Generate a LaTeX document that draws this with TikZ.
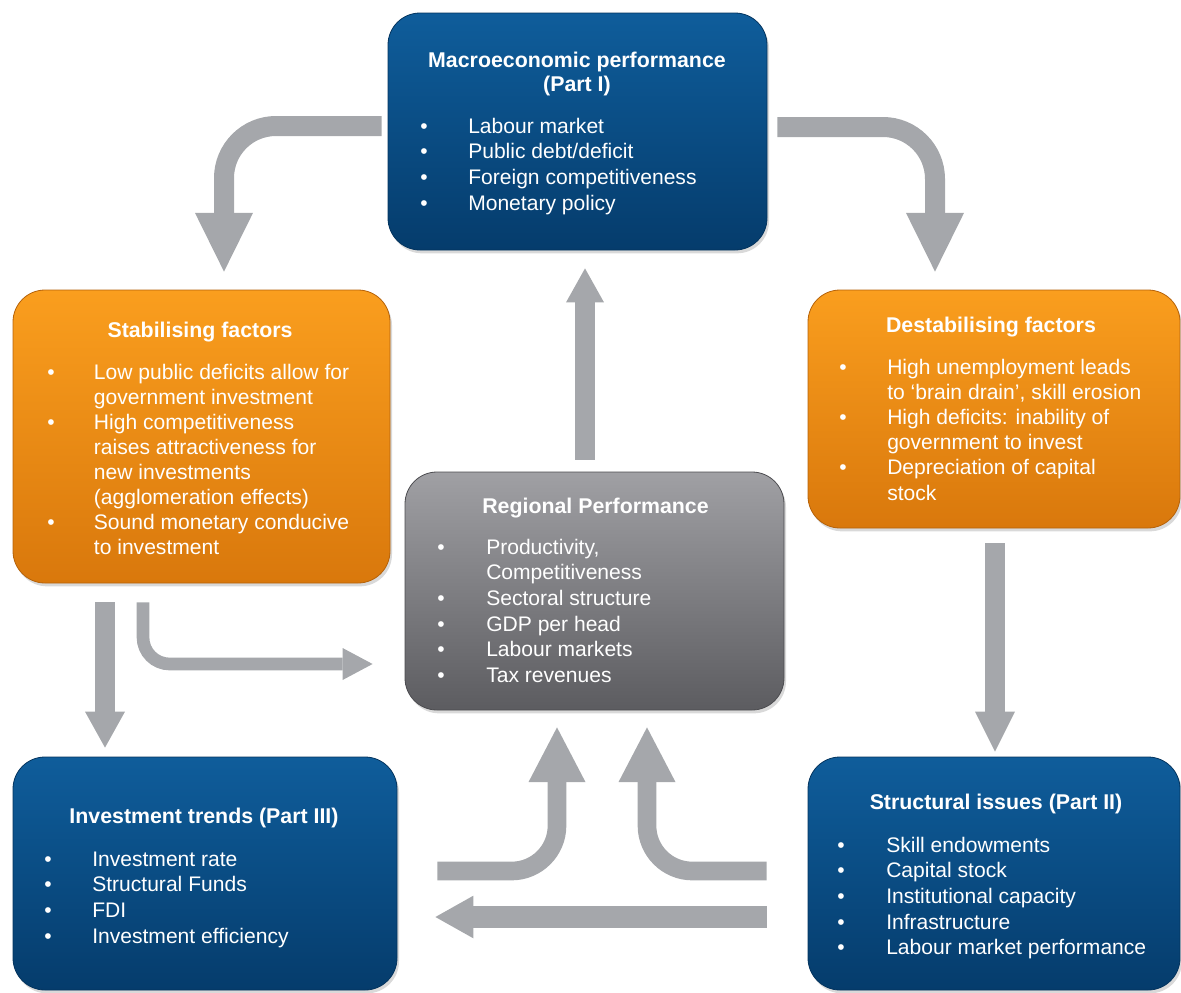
\documentclass[tikz,border=0pt]{standalone}
\usepackage{fontspec}
\setmainfont{Liberation Sans}
\usetikzlibrary{arrows.meta}
\usetikzlibrary{calc}
\usetikzlibrary{shadows}

\definecolor{bluetop}{HTML}{0F5D9B}
\definecolor{bluebottom}{HTML}{053C6C}
\definecolor{blueborder}{HTML}{04345E}
\definecolor{orangetop}{HTML}{FA9E1E}
\definecolor{orangebottom}{HTML}{D9780C}
\definecolor{orangeborder}{HTML}{B5620A}
\definecolor{graytop}{HTML}{A0A0A4}
\definecolor{graybottom}{HTML}{5C5C60}
\definecolor{grayborder}{HTML}{4C4C50}
\definecolor{arrowgray}{HTML}{A5A7AB}

\tikzset{
  box/.style={rounded corners=24pt, draw=#1border, line width=0.6pt,
    top color=#1top, bottom color=#1bottom,
    drop shadow={shadow xshift=1.5pt, shadow yshift=-2.5pt, opacity=0.3}},
  boxtitle/.style={font=\fontsize{16}{18}\selectfont\bfseries, text=white, inner sep=0pt, anchor=base},
  itemlist/.style={font=\fontsize{15.8}{19.3}\selectfont, text=white, inner sep=0pt, anchor=base west},
  flow/.style={draw=arrowgray, line width=#1},
  head/.style 2 args={-{Triangle[width=#1,length=#2,line width=0pt]}}
}

\begin{document}
\begin{tikzpicture}[x=0.75pt,y=-0.75pt]
\useasboundingbox (0,0) rectangle (1181,992);

% boxes
\node[box=blue, minimum width=284.25pt, minimum height=177.75pt] (macro) at (577.5,131.5) {};
\node[box=orange, minimum width=282.75pt, minimum height=219.75pt] (stab) at (201.5,436.5) {};
\node[box=orange, minimum width=279pt, minimum height=178.5pt] (destab) at (994,409) {};
\node[box=gray, minimum width=284.25pt, minimum height=178.5pt] (region) at (594.5,591) {};
\node[box=blue, minimum width=288pt, minimum height=174.75pt] (invest) at (205,873.5) {};
\node[box=blue, minimum width=279pt, minimum height=174.75pt] (struct) at (994,873.5) {};

% titles
\node[boxtitle] (macro-title) at (577,67) {\begin{tabular}[t]{@{}c@{}}Macroeconomic performance\\(Part I)\end{tabular}};
\node[boxtitle] (stab-title) at (200,337) {Stabilising factors};
\node[boxtitle] (destab-title) at (991,332) {Destabilising factors};
\node[boxtitle] (region-title) at (595.5,513) {Regional Performance};
\node[boxtitle] (invest-title) at (204,823) {Investment trends (Part III)};
\node[boxtitle] (struct-title) at (996,809) {Structural issues (Part II)};

% lists
\node[itemlist] (macro-list) at (420,133) {\begin{tabular}[t]{@{}p{36pt}@{}l@{}}
\textbullet & Labour market\\
\textbullet & Public debt/deficit\\
\textbullet & Foreign competitiveness\\
\textbullet & Monetary policy
\end{tabular}};
\node[itemlist, font=\fontsize{15.8}{18.8}\selectfont] (stab-list) at (47,379) {\begin{tabular}[t]{@{}p{35pt}@{}l@{}}
\textbullet & Low public deficits allow for\\
 & government investment\\
\textbullet & High competitiveness\\
 & raises attractiveness for\\
 & new investments\\
 & (agglomeration effects)\\
\textbullet & Sound monetary conducive\\
 & to investment
\end{tabular}};
\node[itemlist, font=\fontsize{15.8}{18.9}\selectfont] (destab-list) at (839,374) {\begin{tabular}[t]{@{}p{36pt}@{}l@{}}
\textbullet & High unemployment leads\\
 & to ‘brain drain’, skill erosion\\
\textbullet & High deficits: inability of\\
 & government to invest\\
\textbullet & Depreciation of capital\\
 & stock
\end{tabular}};
\node[itemlist] (region-list) at (437,554) {\begin{tabular}[t]{@{}p{36.75pt}@{}l@{}}
\textbullet & Productivity,\\
 & Competitiveness\\
\textbullet & Sectoral structure\\
\textbullet & GDP per head\\
\textbullet & Labour markets\\
\textbullet & Tax revenues
\end{tabular}};
\node[itemlist] (invest-list) at (44,866) {\begin{tabular}[t]{@{}p{36pt}@{}l@{}}
\textbullet & Investment rate\\
\textbullet & Structural Funds\\
\textbullet & FDI\\
\textbullet & Investment efficiency
\end{tabular}};
\node[itemlist] (struct-list) at (837,852) {\begin{tabular}[t]{@{}p{36.75pt}@{}l@{}}
\textbullet & Skill endowments\\
\textbullet & Capital stock\\
\textbullet & Institutional capacity\\
\textbullet & Infrastructure\\
\textbullet & Labour market performance
\end{tabular}};

% arrows
\draw[flow=15pt, rounded corners=39pt, head={43.5pt}{44pt}] ($(macro.west)+(-6,-5.5)$) -| ($(stab.north)+(22.5,-18)$);
\draw[flow=15pt, rounded corners=39pt, head={43.5pt}{44pt}] ($(macro.east)+(10,-4.5)$) -| ($(destab.north)+(-59,-18)$);
\draw[flow=15pt, head={28.5pt}{25.5pt}] ($(region.north)+(-9.5,-12)$) -- ($(macro.south)+(7.5,18)$);
\draw[flow=15pt, head={30pt}{30pt}] ($(destab.south)+(1,15)$) -- ($(struct.north)+(1,-5)$);
\draw[flow=15pt, head={30pt}{27pt}] ($(stab.south)+(-96.5,19)$) -- ($(invest.north)+(-100,-9)$);
\draw[flow=9.5pt, rounded corners=20pt, head={24pt}{22.5pt}] ($(stab.south)+(-58.5,19)$) |- ($(region.west)+(-32,73)$);
\draw[flow=14pt, rounded corners=34pt, head={42.75pt}{41pt}] ($(invest.east)+(40,-2.5)$) -| ($(region.south)+(-37.5,17)$);
\draw[flow=14pt, rounded corners=34pt, head={42.75pt}{41pt}] ($(struct.west)+(-41,-2.5)$) -| ($(region.south)+(52.5,17)$);
\draw[flow=16.5pt, head={32pt}{28.5pt}] ($(struct.west)+(-41,43.5)$) -- ($(invest.east)+(38,43.5)$);

\end{tikzpicture}
\end{document}
